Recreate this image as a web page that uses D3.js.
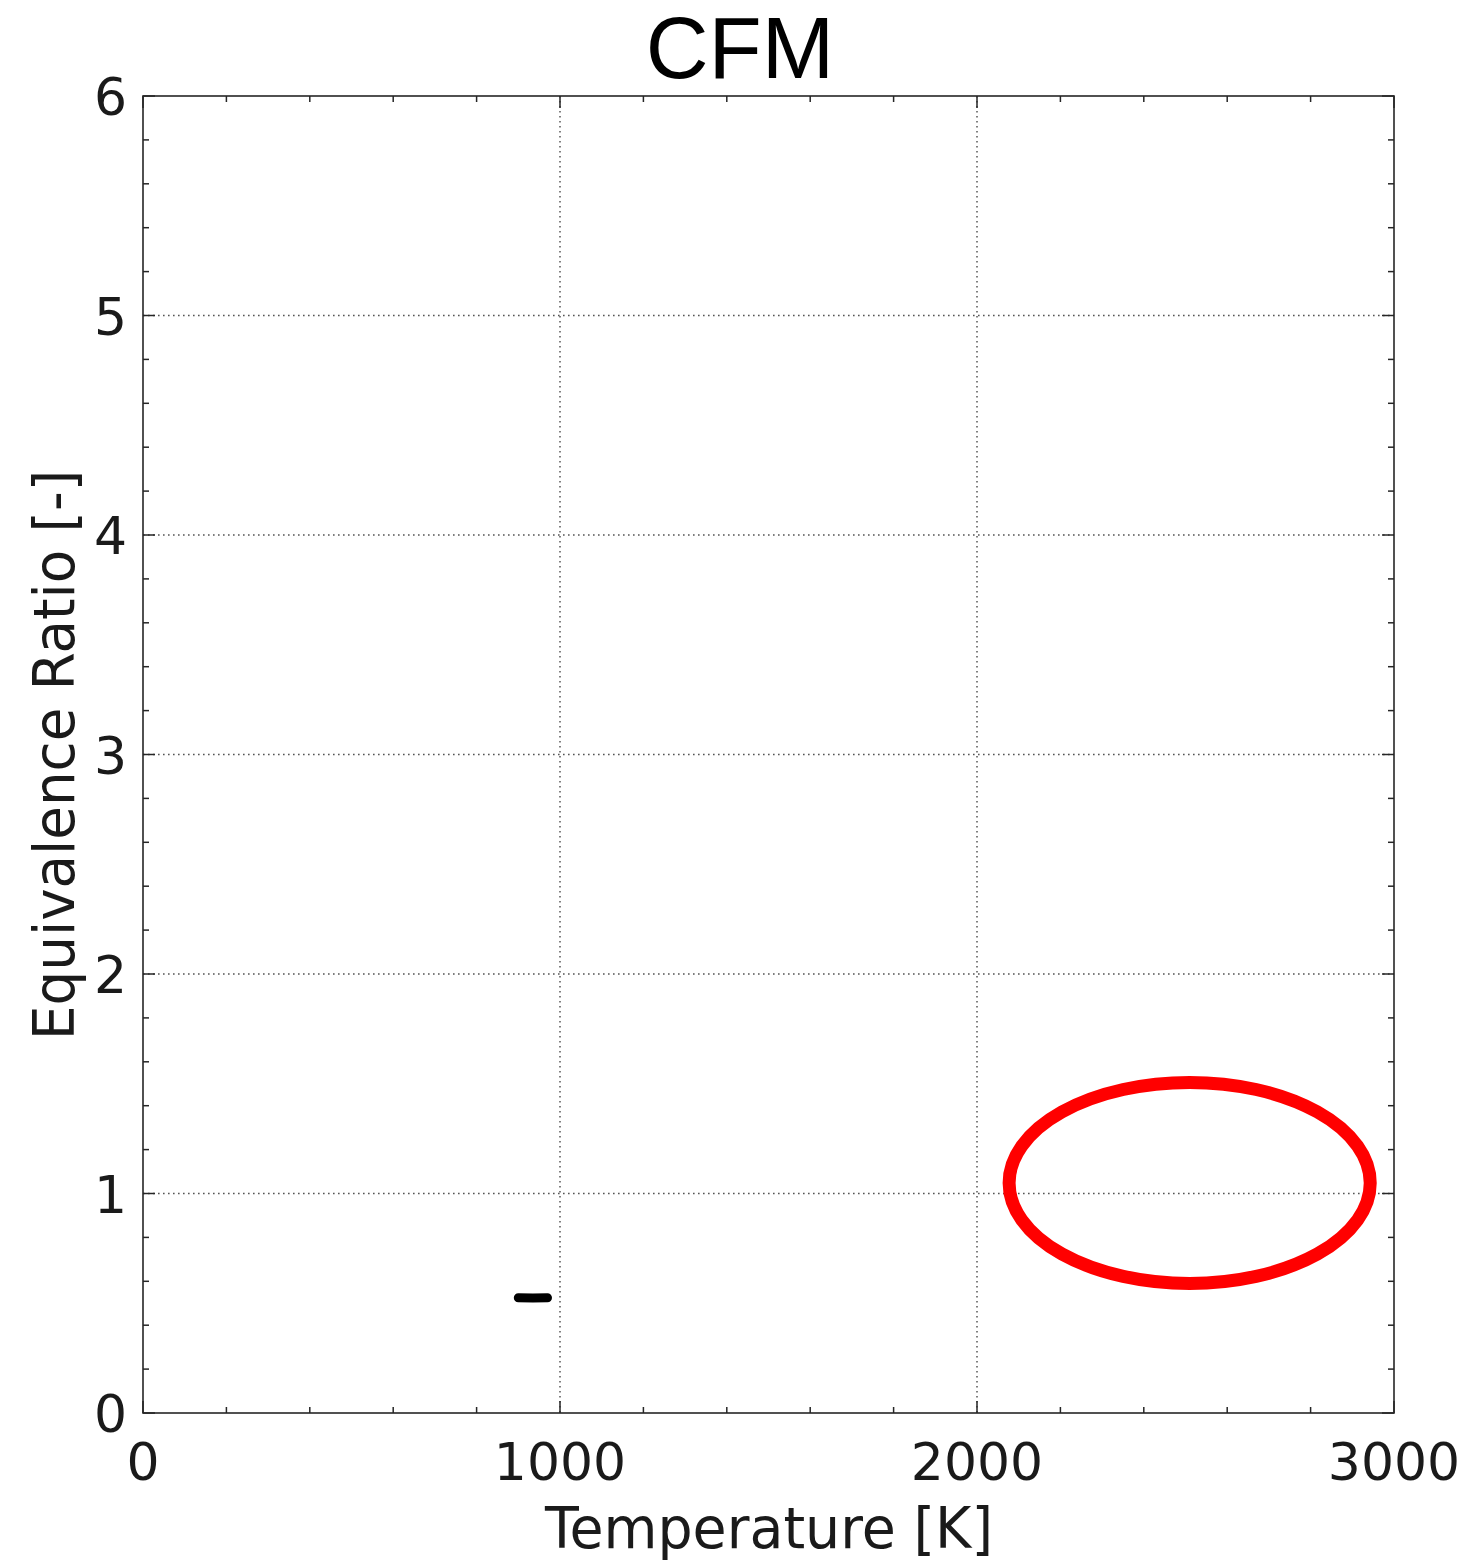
<!DOCTYPE html>
<html>
<head>
<meta charset="utf-8">
<script src="https://cdn.jsdelivr.net/npm/d3@7"></script>
<style>
  body { margin: 0; background: #fff; }
  text { font-family: "DejaVu Sans", sans-serif; fill: #1a1a1a; }
</style>
</head>
<body>
<script>
const width = 1472;
const height = 1565;
const margin = {left: 143, top: 96, right: 78, bottom: 152}; // plot box edges

// axis setup
const xDomain = [0, 3000];
const yDomain = [0, 6];
const xTicks = [0, 1000, 2000, 3000];
const yTicks = [0, 1, 2, 3, 4, 5, 6];
const xMinor = d3.range(0, 3001, 200);
const yMinor = d3.range(0, 6.01, 0.2);

// black marker: operating point line (T [K], phi [-])
const markT = [900, 935, 970];
const markPhi = [0.525, 0.524, 0.525];

// red ellipse: centre and half widths in data units
const ellCenter = [2510, 1.048];
const ellRadius = [433, 0.458];

const title = "CFM";
const xLabel = "Temperature [K]";
const yLabel = "Equivalence Ratio [-]";

const svg = d3.select("body").append("svg")
    .attr("width", width)
    .attr("height", height);

const x = d3.scaleLinear().domain(xDomain).range([margin.left, width - margin.right]);
const y = d3.scaleLinear().domain(yDomain).range([height - margin.bottom, margin.top]);

const x0 = x.range()[0], x1 = x.range()[1];
const y0 = y.range()[0], y1 = y.range()[1];

// grid lines (dotted)
const grid = svg.append("g")
    .attr("stroke", "#555")
    .attr("stroke-width", 1.5)
    .attr("stroke-dasharray", "1.6,3.4");

grid.selectAll(".gx")
    .data(xTicks.slice(1, -1))
    .enter().append("line")
    .attr("x1", d => x(d)).attr("x2", d => x(d))
    .attr("y1", y1).attr("y2", y0);

grid.selectAll(".gy")
    .data(yTicks.slice(1, -1))
    .enter().append("line")
    .attr("y1", d => y(d)).attr("y2", d => y(d))
    .attr("x1", x0).attr("x2", x1);

// ticks on all four sides, pointing inwards
const ticks = svg.append("g")
    .attr("stroke", "#262626")
    .attr("stroke-width", 1.5);

function addXTicks(data, len) {
    data.forEach(d => {
        ticks.append("line").attr("x1", x(d)).attr("x2", x(d)).attr("y1", y0).attr("y2", y0 - len);
        ticks.append("line").attr("x1", x(d)).attr("x2", x(d)).attr("y1", y1).attr("y2", y1 + len);
    });
}
function addYTicks(data, len) {
    data.forEach(d => {
        ticks.append("line").attr("y1", y(d)).attr("y2", y(d)).attr("x1", x0).attr("x2", x0 + len);
        ticks.append("line").attr("y1", y(d)).attr("y2", y(d)).attr("x1", x1).attr("x2", x1 - len);
    });
}
addXTicks(xMinor.filter(d => !xTicks.includes(d)), 6);
addYTicks(yMinor.filter(d => Math.abs(d - Math.round(d)) > 1e-6), 6);
addXTicks(xTicks, 12);
addYTicks(yTicks, 12);

// box
svg.append("rect")
    .attr("x", x0).attr("y", y1)
    .attr("width", x1 - x0).attr("height", y0 - y1)
    .attr("fill", "none")
    .attr("stroke", "#262626")
    .attr("stroke-width", 1.6);

// tick labels
svg.append("g").selectAll("text")
    .data(xTicks)
    .enter().append("text")
    .attr("x", d => x(d))
    .attr("y", y0 + 67)
    .attr("text-anchor", "middle")
    .style("font-size", "52px")
    .text(d => d);

svg.append("g").selectAll("text")
    .data(yTicks)
    .enter().append("text")
    .attr("x", x0 - 16)
    .attr("y", d => y(d) + 19)
    .attr("text-anchor", "end")
    .style("font-size", "52px")
    .text(d => d);

// axis labels and title
svg.append("text")
    .attr("x", 769)
    .attr("y", 1548)
    .attr("text-anchor", "middle")
    .attr("textLength", 448)
    .attr("lengthAdjust", "spacingAndGlyphs")
    .style("font-size", "57px")
    .text(xLabel);

svg.append("text")
    .attr("transform", "translate(74,755) rotate(-90)")
    .attr("text-anchor", "middle")
    .attr("textLength", 570)
    .attr("lengthAdjust", "spacingAndGlyphs")
    .style("font-size", "57px")
    .text(yLabel);

svg.append("text")
    .attr("x", 740)
    .attr("y", 78)
    .attr("text-anchor", "middle")
    .style("font-family", "'Liberation Sans', Arial, sans-serif")
    .style("font-size", "87px")
    .style("fill", "#000")
    .text(title);

// red ellipse
svg.append("ellipse")
    .attr("cx", x(ellCenter[0]))
    .attr("cy", y(ellCenter[1]))
    .attr("rx", x(ellCenter[0] + ellRadius[0]) - x(ellCenter[0]))
    .attr("ry", y(ellCenter[1]) - y(ellCenter[1] + ellRadius[1]))
    .attr("fill", "none")
    .attr("stroke", "#ff0000")
    .attr("stroke-width", 13);

// black marker line
const markLine = d3.line()
    .x((d, i) => x(markT[i]))
    .y((d, i) => y(markPhi[i]));

svg.append("path")
    .datum(markT)
    .attr("d", markLine)
    .attr("fill", "none")
    .attr("stroke", "#000")
    .attr("stroke-width", 9)
    .attr("stroke-linecap", "round");
</script>
</body>
</html>
